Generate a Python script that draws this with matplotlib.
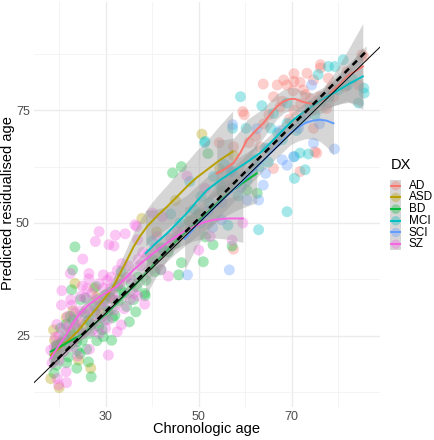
import numpy as np
import matplotlib
matplotlib.use("Agg")
import matplotlib.pyplot as plt
from matplotlib.patches import Rectangle
from matplotlib.lines import Line2D

plt.rcParams['font.family'] = ['Liberation Sans', 'DejaVu Sans']

groups = ["AD", "ASD", "BD", "MCI", "SCI", "SZ"]
colors = ["#F8766D", "#B79F00", "#00BA38", "#00BFC4", "#619CFF", "#F564E3"]

# ---- scatter points (chronologic age, predicted age) ----
ad_pts = [(54.4,67.8),(57.5,66.9),(57.5,44.2),(59.5,74.7),(59.8,74.0),(60.8,67.8),(62.3,69.2),(63.2,66.9),
          (63.9,80.8),(65.1,74.0),(66.1,78.0),(66.1,62.1),(66.9,80.6),(67.5,75.7),(68.3,81.7),(69.0,80.6),
          (70.3,79.3),(70.5,81.4),(70.5,75.0),(70.5,83.1),(71.8,81.2),(71.8,61.4),(72.5,79.5),(73.3,83.2),
          (74.7,81.7),(74.7,71.0),(75.0,65.8),(75.4,65.5),(76.2,85.1),(76.2,84.4),(77.5,75.4),(77.9,82.1),
          (79.0,78.0),(81.5,80.2),(81.9,83.6),(84.4,80.6),(85.1,87.3),(85.5,86.9),(68.0,77.0),(72.0,76.5),
          (74.0,77.5),(76.0,78.0),(78.5,80.0),(64.0,72.0),(69.5,73.0),(73.0,78.5)]
asd_pts = [(18.2,15.5),(18.8,26.3),(19.0,24.0),(20.0,13.5),(19.5,22.0),(21.5,29.0),(23.4,36.6),(24.2,19.6),
           (26.8,17.8),(22.5,26.0),(25.0,27.5),(27.5,35.5),(29.0,30.0),(31.0,33.5),(33.0,37.5),(37.8,51.0),
           (50.7,69.7),(57.5,65.0),(54.5,62.0),(41.0,48.0),(45.0,55.0),(20.5,23.5),(23.0,30.5),(28.0,33.5)]
bd_pts = [(18.9,16.7),(19.0,19.7),(19.6,23.0),(20.3,26.7),(21.6,19.0),(22.0,20.3),(22.4,29.3),(22.7,35.2),
          (22.9,39.6),(23.4,44.7),(23.8,17.8),(23.8,21.8),(23.8,23.7),(24.6,33.0),(25.8,33.3),(25.9,22.0),
          (26.3,19.2),(26.3,28.5),(26.9,15.9),(27.9,35.9),(28.1,23.9),(29.2,26.3),(29.5,24.8),(29.9,28.5),
          (31.3,24.0),(31.3,33.2),(32.7,32.8),(33.3,39.2),(34.5,31.5),(35.1,28.1),(36.5,30.3),(36.7,35.9),
          (38.4,34.4),(38.5,33.9),(38.7,37.3),(40.6,39.2),(41.9,39.6),(43.5,43.6),(44.4,61.1),(45.7,38.5),
          (46.3,62.5),(46.3,41.2),(51.0,41.4),(51.5,46.9),(52.0,65.4),(53.1,45.2),(57.2,44.9),(60.4,57.3),
          (62.6,56.6),(20.5,22.5),(21.0,24.5),(22.5,25.0),(24.0,26.5),(25.0,24.0),(27.0,27.5),(28.0,30.0),
          (30.5,30.5),(32.0,29.5),(34.0,34.5),(37.0,38.0),(40.0,42.0),(42.0,44.5),(48.0,50.5),(50.0,52.0),
          (55.0,57.0),(58.0,58.5),(45.0,45.5),(19.5,18.5),(24.5,21.0),(21.5,27.5),(23.0,28.5),(25.5,30.0),
          (26.5,25.5),(28.5,27.0),(30.0,34.0),(31.5,29.0),(33.5,35.0),(35.5,36.5),(19.0,21.0),(22.0,23.0),
          (27.5,31.5),(29.5,32.0),(32.5,36.0),(36.0,33.0)]
mci_pts = [(40.0,46.0),(42.5,44.0),(44.0,52.0),(46.0,50.0),(48.1,59.2),(50.5,55.9),(51.3,67.8),(51.4,68.1),
           (52.4,54.4),(53.2,60.3),(54.6,58.4),(56.3,49.5),(57.3,71.0),(57.3,61.3),(59.0,78.0),(60.2,71.0),
           (60.4,59.5),(61.6,61.4),(62.9,48.5),(63.6,76.0),(64.4,66.6),(65.5,71.0),(66.1,74.3),(69.0,52.5),
           (69.0,76.6),(69.0,72.1),(70.6,59.9),(70.6,64.7),(71.8,65.5),(72.9,61.8),(73.6,65.3),(74.0,75.9),
           (75.7,82.9),(77.9,84.7),(79.3,84.7),(81.1,86.2),(84.4,76.6),(85.5,79.9),(85.6,78.8),(67.0,70.0),
           (68.0,68.5),(71.0,70.5),(72.0,73.0),(75.0,74.0),(76.5,77.0),(78.0,78.0),(80.0,79.5),(82.0,80.5),
           (83.0,82.0),(62.0,64.0),(58.5,56.0),(55.5,63.0),(49.0,53.0),(63.0,62.5),(65.0,63.5)]
sci_pts = [(47.6,38.5),(50.5,50.0),(52.0,52.5),(54.9,50.7),(56.6,39.6),(56.9,61.4),(57.3,71.8),(59.0,58.0),
           (60.4,55.1),(62.5,70.9),(62.9,55.1),(63.9,58.4),(64.4,61.0),(66.8,68.0),(68.0,64.0),(69.0,62.8),
           (70.4,64.7),(74.3,80.6),(74.7,67.7),(79.2,66.4),(60.0,60.5),(65.0,66.5),(67.5,70.5),(71.5,71.0),
           (73.0,73.5),(76.0,72.0),(55.0,54.5),(53.0,49.0)]
sz_pts = [(18.2,21.8),(18.5,19.0),(19.2,24.7),(19.6,15.5),(19.9,14.1),(21.6,14.6),(20.5,31.8),(20.6,35.0),
          (21.0,26.8),(21.8,29.3),(22.4,38.8),(22.7,31.8),(23.0,22.5),(23.5,27.5),(24.0,20.5),(24.6,33.7),
          (25.1,42.0),(25.1,25.5),(25.5,29.5),(26.0,31.0),(26.4,38.8),(26.4,37.6),(27.0,34.4),(27.5,28.0),
          (27.8,45.9),(28.6,48.1),(28.6,25.5),(29.0,31.5),(29.5,35.5),(30.0,26.7),(30.4,37.3),(30.6,20.7),
          (30.7,45.2),(31.1,38.0),(31.8,44.9),(31.8,30.7),(32.1,47.3),(32.5,39.5),(32.5,25.9),(33.4,27.4),
          (34.2,47.6),(35.3,33.0),(36.0,34.4),(36.3,49.6),(36.7,49.2),(36.9,46.3),(36.9,33.8),(37.5,40.5),
          (38.4,32.0),(39.0,43.0),(40.1,52.2),(40.6,44.5),(41.9,39.7),(42.2,51.4),(43.5,38.2),(44.0,46.5),
          (45.5,48.0),(47.5,60.4),(50.0,44.0),(51.4,57.7),(52.5,47.0),(57.2,46.2),(59.5,50.0),(21.5,17.0),
          (23.0,24.0),(26.5,22.0),(28.0,33.0),(29.0,29.0),(31.5,34.0),(33.0,36.5),(34.5,38.0),(19.0,22.5),
          (20.0,19.5),(22.0,27.0),(24.5,30.5),(25.5,33.5),(27.0,26.0),(30.0,32.5),(35.0,40.5),(38.0,43.5),
          (41.0,47.0),(20.0,25.0),(21.0,21.5),(19.5,27.5),(22.5,33.0),(24.0,28.0),(26.0,35.5),(28.5,36.5),
          (29.5,38.5),(31.0,35.5),(33.5,41.0),(35.5,37.5),(37.0,42.0),(23.5,30.0),(25.0,36.0),(27.5,30.5),
          (30.5,28.5),(32.0,33.0),(34.0,31.0)]

# ---- loess smooth curves: x, fit, half-width of CI ----
ad_sx  = [53.9, 55.7, 57.5, 59.0, 60.4, 62.2, 63.9, 65.4, 66.8, 68.3, 69.7, 70.8, 71.8, 73.3, 74.7, 76.8, 79.0, 81.9, 85.3]
ad_sy  = [61.0, 62.0, 63.3, 65.6, 68.4, 70.4, 72.1, 74.1, 75.8, 77.0, 77.5, 77.5, 77.1, 76.6, 76.4, 77.3, 79.5, 82.5, 84.7]
ad_se  = [7.5, 6.5, 5.5, 5.0, 4.5, 3.8, 3.3, 3.0, 2.8, 2.6, 2.5, 2.5, 2.4, 2.4, 2.5, 2.8, 3.5, 5.5, 9.5]
asd_sx = [18.2, 20.0, 21.7, 24.0, 26.0, 28.0, 29.5, 31.5, 33.1, 34.6, 36.0, 37.5, 38.9, 41.0, 43.2, 45.5, 47.5, 49.5, 51.8, 54.5, 57.3]
asd_sy = [20.7, 22.2, 23.7, 26.0, 28.5, 31.0, 32.9, 35.6, 38.8, 41.8, 44.7, 47.2, 49.2, 51.5, 53.6, 56.0, 58.1, 60.0, 61.8, 63.9, 65.8]
asd_se = [2.8, 2.2, 1.8, 1.6, 1.5, 1.5, 1.6, 1.9, 2.3, 2.8, 3.2, 3.6, 4.0, 4.4, 4.8, 5.2, 5.5, 6.0, 6.5, 7.7, 9.0]
bd_sx  = [18.2, 21.5, 25.2, 30.3, 36.0, 40.3, 45.0, 50.0, 55.0, 58.5, 62.5]
bd_sy  = [21.5, 23.3, 25.5, 30.0, 35.9, 40.8, 45.8, 50.6, 55.3, 58.2, 61.0]
bd_se  = [2.2, 1.6, 1.2, 1.2, 1.6, 2.0, 2.6, 3.2, 4.2, 5.2, 6.5]
mci_sx = [38.6, 40.8, 43.2, 45.3, 47.5, 49.6, 51.8, 54.6, 57.5, 60.4, 63.2, 65.0, 66.8, 68.6, 70.4, 72.9, 75.4, 77.2, 79.0, 80.8, 82.6, 85.3]
mci_sy = [43.3, 45.5, 47.7, 49.9, 52.2, 54.8, 57.3, 59.5, 61.5, 63.5, 65.5, 67.3, 69.2, 71.1, 72.9, 74.8, 76.6, 77.8, 78.8, 79.9, 81.0, 82.5]
mci_se = [9.5, 7.5, 6.0, 4.9, 4.0, 3.4, 3.0, 2.7, 2.4, 2.2, 2.0, 1.9, 1.8, 1.8, 1.8, 1.9, 2.0, 2.4, 2.8, 3.4, 4.2, 6.5]
sci_sx = [47.0, 48.5, 50.0, 52.5, 55.0, 57.5, 60.0, 62.3, 64.7, 67.2, 69.7, 71.4, 73.0, 74.6, 76.1, 77.5, 79.0]
sci_sy = [46.5, 48.2, 50.0, 52.5, 55.0, 57.4, 59.8, 62.2, 64.7, 67.3, 69.9, 71.2, 72.2, 72.7, 72.9, 72.7, 72.1]
sci_se = [7.0, 5.6, 4.5, 3.6, 3.0, 2.7, 2.4, 2.3, 2.2, 2.4, 2.6, 3.0, 3.5, 4.1, 4.8, 5.8, 7.0]
sz_sx  = [18.2, 20.0, 21.7, 23.0, 24.5, 26.5, 28.8, 30.6, 32.4, 34.2, 36.0, 38.1, 40.3, 42.4, 44.6, 46.7, 48.9, 51.0, 53.2, 56.3, 59.5]
sz_sy  = [20.0, 22.9, 25.5, 27.8, 30.0, 32.0, 33.7, 34.8, 35.9, 37.7, 39.6, 41.5, 43.3, 45.0, 46.6, 48.0, 49.2, 50.1, 50.7, 51.0, 51.0]
sz_se  = [2.2, 1.8, 1.4, 1.3, 1.2, 1.2, 1.2, 1.2, 1.3, 1.4, 1.6, 1.8, 2.0, 2.3, 2.6, 2.9, 3.2, 3.6, 4.0, 4.6, 5.3]

# overall linear fit (dashed) and CI half-width
lm_x  = [18.0, 30.0, 45.0, 60.0, 75.0, 86.0]
lm_y  = [18.1, 30.4, 45.8, 61.3, 76.7, 88.0]
lm_se = [1.1, 0.7, 0.5, 0.6, 0.9, 1.3]

pts = [ad_pts, asd_pts, bd_pts, mci_pts, sci_pts, sz_pts]
smooths = [(ad_sx, ad_sy, ad_se), (asd_sx, asd_sy, asd_se), (bd_sx, bd_sy, bd_se),
           (mci_sx, mci_sy, mci_se), (sci_sx, sci_sy, sci_se), (sz_sx, sz_sy, sz_se)]

W, H = 435, 440
fig = plt.figure(figsize=(W/100, H/100), dpi=100)
fig.patch.set_facecolor("white")
ax = fig.add_axes([34/W, 1-407/H, (380-34)/W, (407-2)/H])
ax.set_xlim(14.6, 89.0)
ax.set_ylim(9.2, 99.0)
for s in ax.spines.values():
    s.set_visible(False)
ax.set_facecolor("white")

# grid
for v in [30, 50, 70]:
    ax.axvline(v, color="#EBEBEB", lw=1.0, zorder=0)
for v in [20, 40, 60, 80]:
    ax.axvline(v, color="#F3F3F3", lw=0.6, zorder=0)
for v in [25, 50, 75]:
    ax.axhline(v, color="#EBEBEB", lw=1.0, zorder=0)
for v in [12.5, 37.5, 62.5, 87.5]:
    ax.axhline(v, color="#F3F3F3", lw=0.6, zorder=0)

ax.set_xticks([30, 50, 70])
ax.set_yticks([25, 50, 75])
ax.tick_params(length=0, labelsize=9, labelcolor="#4D4D4D", pad=3)

PT_S = 62
PT_A = 0.35
for p, c in zip(pts, colors):
    arr = np.array(p)
    ax.scatter(arr[:, 0], arr[:, 1], s=PT_S, color=c, alpha=PT_A, edgecolors="none", zorder=2)

for (sx, sy, se), c in zip(smooths, colors):
    sx = np.array(sx); sy = np.array(sy); se = np.array(se)
    ax.fill_between(sx, sy - se, sy + se, color="#999999", alpha=0.4, lw=0, zorder=3)
    ax.plot(sx, sy, color=c, lw=1.4, zorder=4, solid_joinstyle="round")

lx = np.array(lm_x); ly = np.array(lm_y); ls_ = np.array(lm_se)
ax.fill_between(lx, ly - ls_, ly + ls_, color="#999999", alpha=0.4, lw=0, zorder=5)
ax.plot(lx, ly, color="black", lw=1.8, ls=(0, (2.5, 2.0)), zorder=6)
ax.plot([14.6, 89.0], [14.6, 89.0], color="black", lw=0.7, zorder=7)

fig.text(207/W, 1-429/H, "Chronologic age", ha="center", va="center", fontsize=10.5, color="black")
fig.text(8/W, 1-203/H, "Predicted residualised age", ha="center", va="center",
         rotation=90, fontsize=10.5, color="black")

# legend drawn in pixel coordinates
lg = fig.add_axes([0, 0, 1, 1], facecolor="none")
lg.set_xlim(0, W); lg.set_ylim(H, 0); lg.axis("off")
lg.text(390.5, 165, "DX", ha="left", va="center", fontsize=10.5, color="black")
key_y = [185.7, 197.4, 209.1, 220.8, 232.5, 244.2]
for g, c, yk in zip(groups, colors, key_y):
    lg.add_patch(Rectangle((390.5, yk - 5.85), 10.5, 11.7, facecolor="#999999", alpha=0.4, lw=0))
    lg.scatter([395.75], [yk], s=PT_S * 0.75, color=c, alpha=PT_A, edgecolors="none")
    lg.add_line(Line2D([391, 400.5], [yk, yk], color=c, lw=1.4))
    lg.text(409, yk, g, ha="left", va="center", fontsize=8.5, color="black")

fig.savefig("out.png", dpi=100, facecolor="white")
